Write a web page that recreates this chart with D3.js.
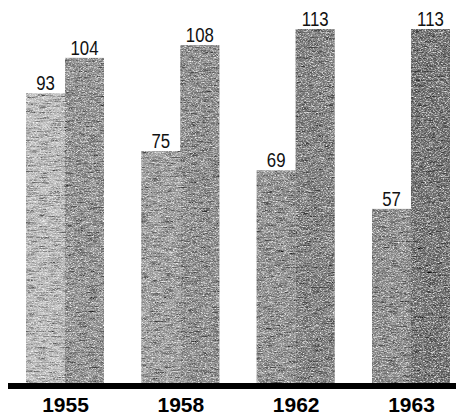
<!DOCTYPE html>
<html>
<head>
<meta charset="utf-8">
<script src="https://cdn.jsdelivr.net/npm/d3@7"></script>
<style>
  html, body { margin: 0; padding: 0; background: #fff; }
  svg { display: block; }
</style>
</head>
<body>
<svg id="chart" width="456" height="416"></svg>
<script>
// ---- data ----
const years = ["1955", "1958", "1962", "1963"];
const seriesA = [93, 75, 69, 57];
const seriesB = [104, 108, 113, 113];

// ---- styles (not data) ----
const toneA = ["#bdbdbd", "#9c9c9c", "#8e8e8e", "#8a8a8a"];
const toneB = ["#8f8f8f", "#8a8a8a", "#7c7c7c", "#6c6c6c"];

const W = 456, H = 416;
const baseY = 384;
const barW = 39;

const svg = d3.select("#chart");
const defs = svg.append("defs");

// white speck grain
const f = defs.append("filter").attr("id", "grain")
  .attr("x", 0).attr("y", 0).attr("width", 1).attr("height", 1);
f.append("feTurbulence").attr("type", "fractalNoise")
  .attr("baseFrequency", "0.6 1.2").attr("numOctaves", 2).attr("seed", 7).attr("result", "noise");
f.append("feColorMatrix").attr("in", "noise").attr("type", "matrix")
  .attr("values", "0 0 0 0 1  0 0 0 0 1  0 0 0 0 1  -2.2 0 0 0 1.25").attr("result", "whiteSpecks");
f.append("feComposite").attr("in", "whiteSpecks").attr("in2", "SourceGraphic").attr("operator", "in");

// dark streak grain on the tone
const f2 = defs.append("filter").attr("id", "grain2")
  .attr("x", 0).attr("y", 0).attr("width", 1).attr("height", 1);
f2.append("feTurbulence").attr("type", "fractalNoise")
  .attr("baseFrequency", "0.08 0.8").attr("numOctaves", 3).attr("seed", 3).attr("result", "noise");
f2.append("feColorMatrix").attr("in", "noise").attr("type", "matrix")
  .attr("values", "0 0 0 0 0  0 0 0 0 0  0 0 0 0 0  2.0 0 0 0 -0.8").attr("result", "dark");
f2.append("feComposite").attr("in", "dark").attr("in2", "SourceGraphic").attr("operator", "in").attr("result", "darkIn");
f2.append("feMerge").call(m => {
  m.append("feMergeNode").attr("in", "SourceGraphic");
  m.append("feMergeNode").attr("in", "darkIn");
});

const x = d3.scalePoint().domain(years).range([65, 411]);
const y = d3.scaleLinear().domain([0, 113]).range([392, 29]);

const bars = [];
years.forEach((yr, i) => {
  bars.push({ year: yr, v: seriesA[i], side: -1, tone: toneA[i] });
  bars.push({ year: yr, v: seriesB[i], side: 0, tone: toneB[i] });
});

const g = svg.append("g");
const groups = g.selectAll("g.bar").data(bars).join("g").attr("class", "bar");

groups.append("rect")
  .attr("x", d => x(d.year) + d.side * barW)
  .attr("y", d => y(d.v))
  .attr("width", barW)
  .attr("height", d => baseY - y(d.v))
  .attr("fill", d => d.tone)
  .attr("filter", "url(#grain2)");

groups.append("rect")
  .attr("x", d => x(d.year) + d.side * barW)
  .attr("y", d => y(d.v))
  .attr("width", barW)
  .attr("height", d => baseY - y(d.v))
  .attr("fill", "#000")
  .attr("filter", "url(#grain)");

// value labels (condensed)
g.selectAll("text.val").data(bars).join("text")
  .attr("class", "val")
  .attr("transform", d => `translate(${x(d.year) + d.side * barW + barW / 2}, ${y(d.v) - 3}) scale(0.8, 1)`)
  .attr("text-anchor", "middle")
  .attr("font-family", "'Liberation Sans', Arial, sans-serif")
  .attr("font-size", 21)
  .attr("fill", "#111")
  .text(d => d.v);

// baseline
svg.append("rect")
  .attr("x", 8).attr("y", baseY - 1)
  .attr("width", W - 8).attr("height", 6)
  .attr("fill", "#000");

// year axis
const axis = d3.axisBottom(x).tickSize(0).tickPadding(0);
const ax = svg.append("g").attr("transform", `translate(0, ${baseY + 5})`).call(axis);
ax.select(".domain").remove();
ax.selectAll("text")
  .attr("dy", 0)
  .attr("y", 23)
  .attr("font-family", "'Liberation Sans', Arial, sans-serif")
  .attr("font-weight", "bold")
  .attr("font-size", 21)
  .attr("fill", "#000");
</script>
</body>
</html>
